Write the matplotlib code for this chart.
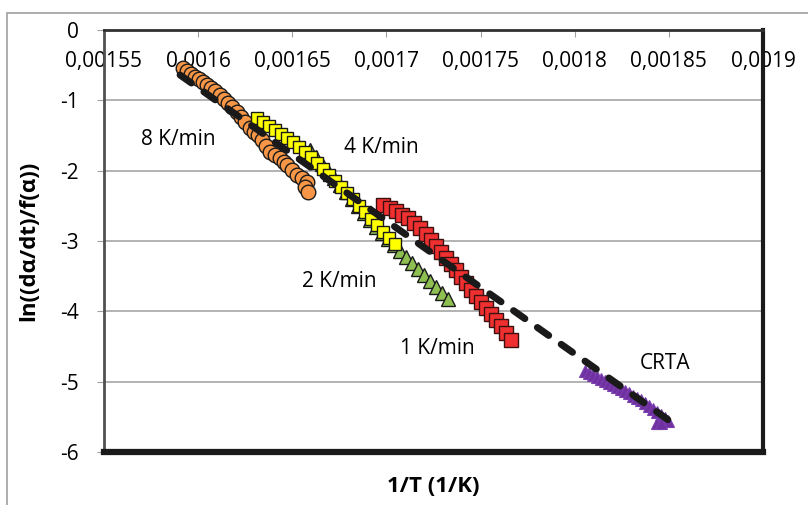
import matplotlib.pyplot as plt
from matplotlib.patches import Rectangle

# 8 K/min (orange circles)
x8 = [0.0015920, 0.0015941, 0.0015962, 0.0015984, 0.0016005, 0.0016026, 0.0016047, 0.0016069,
      0.0016090, 0.0016116, 0.0016138, 0.0016159, 0.0016180, 0.0016207, 0.0016228, 0.0016249,
      0.0016276, 0.0016297, 0.0016318, 0.0016340, 0.0016361, 0.0016382, 0.0016409, 0.0016435,
      0.0016456, 0.0016472, 0.0016499, 0.0016525, 0.0016552, 0.0016579, 0.0016568, 0.0016584]
y8 = [-0.540, -0.583, -0.626, -0.668, -0.697, -0.739, -0.782, -0.825,
      -0.867, -0.924, -0.981, -1.038, -1.095, -1.166, -1.237, -1.308,
      -1.393, -1.450, -1.493, -1.564, -1.649, -1.735, -1.777, -1.820,
      -1.877, -1.920, -1.991, -2.062, -2.104, -2.161, -2.232, -2.303]

# 4 K/min (yellow squares)
x4 = [0.0016313, 0.0016345, 0.0016377, 0.0016409, 0.0016440, 0.0016472, 0.0016504, 0.0016536,
      0.0016568, 0.0016600, 0.0016632, 0.0016664, 0.0016696, 0.0016727, 0.0016759, 0.0016791,
      0.0016823, 0.0016855, 0.0016887, 0.0016919, 0.0016951, 0.0016982, 0.0017014, 0.0017046]
y4 = [-1.251, -1.308, -1.365, -1.422, -1.479, -1.536, -1.592, -1.664,
      -1.735, -1.806, -1.891, -1.976, -2.062, -2.147, -2.232, -2.318,
      -2.403, -2.502, -2.588, -2.687, -2.773, -2.872, -2.957, -3.043]

# 2 K/min (green triangles)
x2 = [0.0016595, 0.0016626, 0.0016658, 0.0016690, 0.0016722, 0.0016754, 0.0016786, 0.0016818,
      0.0016850, 0.0016881, 0.0016913, 0.0016945, 0.0016977, 0.0017009, 0.0017041, 0.0017073,
      0.0017105, 0.0017137, 0.0017168, 0.0017200, 0.0017232, 0.0017264, 0.0017296, 0.0017328]
y2 = [-1.706, -1.806, -1.905, -2.005, -2.104, -2.204, -2.303, -2.403,
      -2.502, -2.602, -2.702, -2.801, -2.886, -2.972, -3.057, -3.142,
      -3.228, -3.313, -3.398, -3.484, -3.569, -3.654, -3.740, -3.825]

# 1 K/min (red squares)
x1 = [0.0016982, 0.0017020, 0.0017052, 0.0017083, 0.0017115, 0.0017147, 0.0017179, 0.0017211,
      0.0017238, 0.0017264, 0.0017291, 0.0017317, 0.0017344, 0.0017370, 0.0017397, 0.0017424,
      0.0017450, 0.0017477, 0.0017503, 0.0017530, 0.0017556, 0.0017583, 0.0017609, 0.0017636,
      0.0017663]
y1 = [-2.488, -2.531, -2.574, -2.630, -2.673, -2.744, -2.815, -2.901,
      -2.986, -3.071, -3.157, -3.242, -3.327, -3.412, -3.512, -3.597,
      -3.697, -3.782, -3.868, -3.953, -4.038, -4.123, -4.209, -4.308,
      -4.408]

# CRTA (purple triangles)
xc = [0.0018056, 0.0018077, 0.0018098, 0.0018120, 0.0018141, 0.0018162, 0.0018183, 0.0018205,
      0.0018226, 0.0018247, 0.0018268, 0.0018290, 0.0018311, 0.0018332, 0.0018353, 0.0018375,
      0.0018396, 0.0018417, 0.0018438, 0.0018460, 0.0018481, 0.0018497, 0.0018438, 0.0018460]
yc = [-4.849, -4.877, -4.905, -4.934, -4.962, -4.991, -5.019, -5.048,
      -5.076, -5.105, -5.133, -5.161, -5.204, -5.232, -5.261, -5.304,
      -5.346, -5.389, -5.432, -5.474, -5.517, -5.559, -5.588, -5.588]

# fitted line
fit_x = [0.0015904, 0.0018497]
fit_y = [-0.640, -5.545]

xticks = [0.00155, 0.0016, 0.00165, 0.0017, 0.00175, 0.0018, 0.00185, 0.0019]
xticklabels = ['0,00155', '0,0016', '0,00165', '0,0017', '0,00175', '0,0018', '0,00185', '0,0019']
yticks = [0, -1, -2, -3, -4, -5, -6]
yticklabels = ['0', '-1', '-2', '-3', '-4', '-5', '-6']

plt.rcParams['font.family'] = ['Open Sans', 'DejaVu Sans']

fig = plt.figure(figsize=(8.08, 5.05), dpi=100)
ax = fig.add_axes([0.1287, 0.1050, 0.8156, 0.8356])

# outer chart frame
fig.patches.append(Rectangle((0.0087, -0.1), 1.2, 1.0743, transform=fig.transFigure,
                             fill=False, edgecolor='#A0A0A0', linewidth=1.2))

ax.plot(xc, yc, linestyle='none', marker='^', ms=9, mfc='#7030A0', mec='#7A3FB0', mew=0.8, zorder=3)
ax.plot(x1, y1, linestyle='none', marker='s', ms=9.5, mfc='#F03030', mec='#3A1010', mew=1, zorder=3)
ax.plot(x2, y2, linestyle='none', marker='^', ms=10, mfc='#8DC050', mec='#1A1A1A', mew=1, zorder=3)
ax.plot(x8, y8, linestyle='none', marker='o', ms=10.5, mfc='#F79646', mec='#1A1A1A', mew=1, zorder=4)
ax.plot(x4, y4, linestyle='none', marker='s', ms=8.5, mfc='#FFFF00', mec='#1A1A1A', mew=1, zorder=4)
ax.plot(fit_x, fit_y, color='#1A1A1A', linewidth=5, dashes=(2, 2.2),
        dash_capstyle='round', zorder=5)

ax.set_xlim(0.00155, 0.0019)
ax.set_ylim(-6, 0)
ax.set_xticks(xticks)
ax.set_xticklabels(xticklabels)
ax.set_yticks(yticks)
ax.set_yticklabels(yticklabels)
ax.tick_params(axis='x', top=True, bottom=False, labeltop=True, labelbottom=False,
               direction='in', length=5, color='#A0A0A0', pad=-30, labelsize=15)
ax.tick_params(axis='y', direction='out', length=5, color='#A0A0A0', pad=13, labelsize=15)

ax.grid(axis='y', color='#A6A6A6', linewidth=1.2)
ax.set_axisbelow(True)

ax.spines['top'].set_linewidth(2)
ax.spines['top'].set_color('#303030')
ax.spines['right'].set_linewidth(3)
ax.spines['right'].set_color('#1A1A1A')
ax.spines['bottom'].set_linewidth(4.5)
ax.spines['bottom'].set_color('#1A1A1A')
ax.spines['left'].set_linewidth(2)
ax.spines['left'].set_color('#505050')

ax.text(0.0015893, -1.564, '8 K/min', fontsize=15, ha='center', va='center')
ax.text(0.0016972, -1.664, '4 K/min', fontsize=15, ha='center', va='center')
ax.text(0.0016749, -3.569, '2 K/min', fontsize=15, ha='center', va='center')
ax.text(0.0017269, -4.522, '1 K/min', fontsize=15, ha='center', va='center')
ax.text(0.0018481, -4.749, 'CRTA', fontsize=15, ha='center', va='center')

ax.set_xlabel('1/T (1/K)', fontsize=16, fontweight='bold', labelpad=17)
ax.set_ylabel('ln((dα/dt)/f(α))', fontsize=16, fontweight='bold', labelpad=15)

fig.savefig('out.png', dpi=100)
